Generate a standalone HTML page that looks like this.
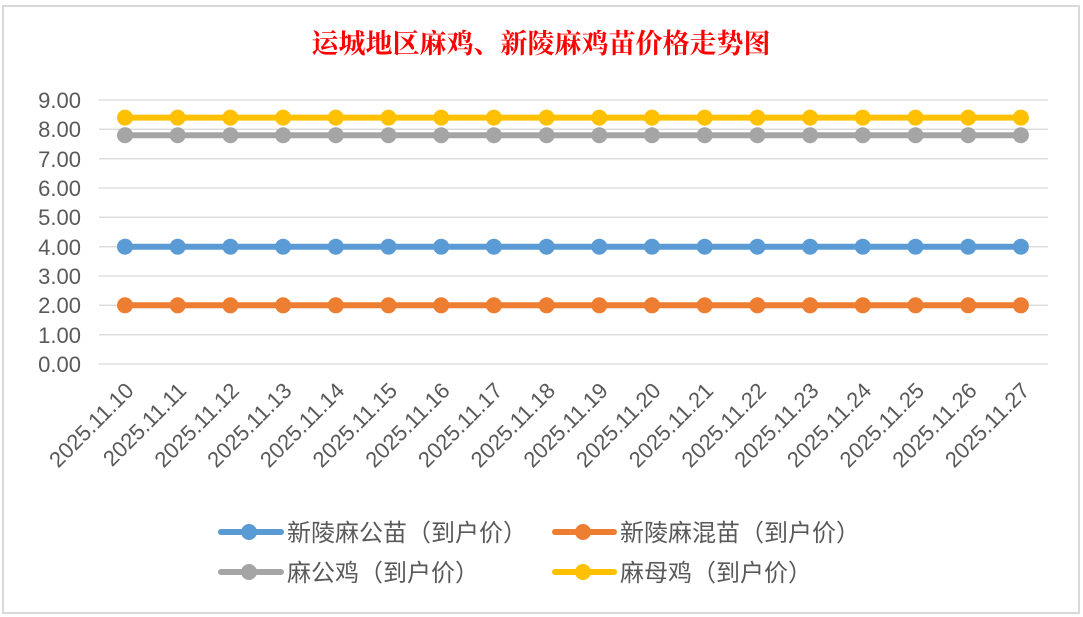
<!DOCTYPE html>
<html><head><meta charset="utf-8"><style>
html,body{margin:0;padding:0;background:#fff;}
svg{display:block;}
</style></head><body>
<svg width="1083" height="617" xmlns="http://www.w3.org/2000/svg" font-family="'Liberation Sans','Noto Sans CJK SC',sans-serif">
<rect x="3" y="6" width="1076" height="607" fill="#fff" stroke="#d9d9d9" stroke-width="2"/>
<text x="541" y="53" text-anchor="middle" font-size="27" font-weight="bold" fill="#ff0000" font-family="'Noto Serif CJK SC','Noto Sans CJK SC',serif">运城地区麻鸡、新陵麻鸡苗价格走势图</text>
<g stroke="#d9d9d9" stroke-width="1.3">
<line x1="99" x2="1048" y1="100" y2="100"/><line x1="99" x2="1048" y1="129.3" y2="129.3"/>
<line x1="99" x2="1048" y1="158.7" y2="158.7"/><line x1="99" x2="1048" y1="188" y2="188"/>
<line x1="99" x2="1048" y1="217.3" y2="217.3"/><line x1="99" x2="1048" y1="246.7" y2="246.7"/>
<line x1="99" x2="1048" y1="276" y2="276"/><line x1="99" x2="1048" y1="305.3" y2="305.3"/>
<line x1="99" x2="1048" y1="334.7" y2="334.7"/><line x1="99" x2="1048" y1="364" y2="364"/>
</g>
<g font-size="22" fill="#595959" text-anchor="end">
<text x="81" y="108">9.00</text><text x="81" y="137">8.00</text><text x="81" y="167">7.00</text>
<text x="81" y="196">6.00</text><text x="81" y="225">5.00</text><text x="81" y="255">4.00</text>
<text x="81" y="284">3.00</text><text x="81" y="313">2.00</text><text x="81" y="343">1.00</text>
<text x="81" y="372">0.00</text>
</g>
<g id="s"></g>
<script>
var s=document.getElementById('s'),ns='http://www.w3.org/2000/svg';
var ser=[[117.6,'#ffc000'],[135.2,'#a5a5a5'],[246.7,'#5b9bd5'],[305.3,'#ed7d31']];
ser.forEach(function(a){
 var l=document.createElementNS(ns,'line');
 l.setAttribute('x1',125);l.setAttribute('x2',1021);l.setAttribute('y1',a[0]);l.setAttribute('y2',a[0]);
 l.setAttribute('stroke',a[1]);l.setAttribute('stroke-width',6);l.setAttribute('stroke-linecap','round');s.appendChild(l);
 for(var i=0;i<18;i++){var c=document.createElementNS(ns,'circle');c.setAttribute('cx',125+i*52.7);c.setAttribute('cy',a[0]);c.setAttribute('r',8);c.setAttribute('fill',a[1]);s.appendChild(c);}
});
for(var i=0;i<18;i++){
 var x=125+i*52.7+10,y=392;
 var t=document.createElementNS(ns,'text');t.setAttribute('x',x);t.setAttribute('y',y);
 t.setAttribute('text-anchor','end');t.setAttribute('font-size','22');t.setAttribute('fill','#595959');
 t.setAttribute('transform','rotate(-45 '+x+' '+y+')');t.textContent='2025.11.'+(10+i);s.appendChild(t);
}
</script>
<g font-size="24" fill="#595959">
<line x1="221" x2="281" y1="532" y2="532" stroke="#5b9bd5" stroke-width="6" stroke-linecap="round"/><circle cx="249" cy="532" r="8" fill="#5b9bd5"/>
<text x="287" y="541">新陵麻公苗（到户价）</text>
<line x1="555" x2="614" y1="532" y2="532" stroke="#ed7d31" stroke-width="6" stroke-linecap="round"/><circle cx="583" cy="532" r="8" fill="#ed7d31"/>
<text x="620" y="541">新陵麻混苗（到户价）</text>
<line x1="221" x2="281" y1="572" y2="572" stroke="#a5a5a5" stroke-width="6" stroke-linecap="round"/><circle cx="249" cy="572" r="8" fill="#a5a5a5"/>
<text x="287" y="581">麻公鸡（到户价）</text>
<line x1="555" x2="614" y1="572" y2="572" stroke="#ffc000" stroke-width="6" stroke-linecap="round"/><circle cx="583" cy="572" r="8" fill="#ffc000"/>
<text x="620" y="581">麻母鸡（到户价）</text>
</g>
</svg>
</body></html>
